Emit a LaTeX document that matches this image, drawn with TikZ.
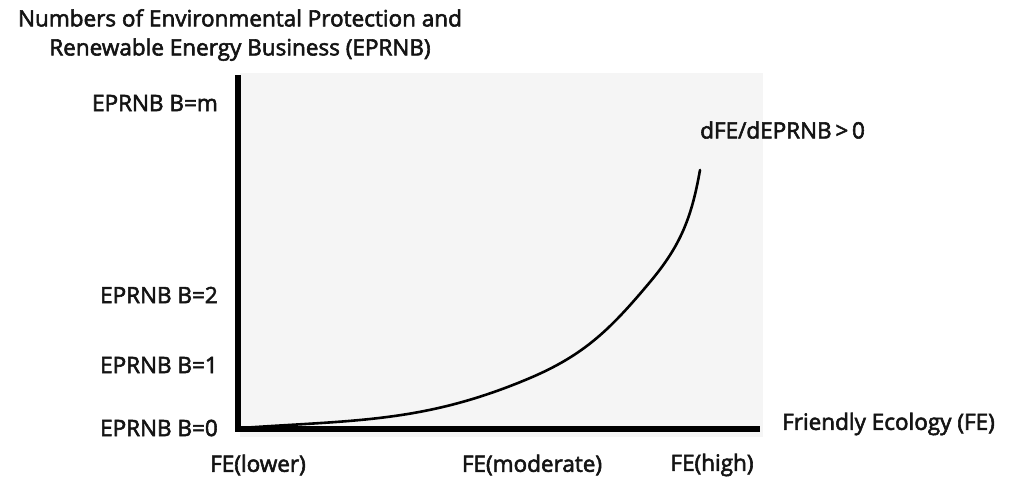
\documentclass[tikz,border=0pt]{standalone}
\usepackage{fontspec}
\setmainfont{Open Sans}[FakeBold=2.5]
\begin{document}
\begin{tikzpicture}[x=1pt,y=-1pt,
  lbl/.style={inner sep=0pt, font=\fontsize{22.5}{29}\selectfont, text=black!92},
  axis/.style={line width=5.5pt, black},
  curve/.style={line width=2.6pt, black, line cap=round, line join=round}]
\useasboundingbox (0,0) rectangle (1014,477);
\fill[black!4] (240,73) rectangle (763,437);
% title
\node[lbl, align=center] (title) at (240,35) {Numbers of Environmental Protection and\\Renewable Energy Business (EPRNB)};
% axes
\coordinate (origin) at (238,429);
\coordinate (ytop) at (238,75);
\coordinate (xend) at (760,429);
\draw[axis] (ytop) -- (origin) -- (xend);
% y labels
\node[lbl, anchor=east] (bm) at (218,103) {EPRNB B=m};
\node[lbl, anchor=east] (b2) at (218,295) {EPRNB B=2};
\node[lbl, anchor=east] (b1) at (218,365) {EPRNB B=1};
\node[lbl, anchor=east] (b0) at (218,428) {EPRNB B=0};
% x labels
\node[lbl] (xl) at (258,465) {FE(lower)};
\node[lbl] (xm) at (532,465) {FE(moderate)};
\node[lbl] (xh) at (712,465) {FE(high)};
\node[lbl, anchor=west] (xt) at (782,424) {Friendly Ecology (FE)};
\node[lbl, anchor=west] (dd) at (700,130) {dFE/dEPRNB\,>\,0};
% curve
\coordinate (cs) at (241,428);
\coordinate (cm1) at (530,378);
\coordinate (cm2) at (650,282);
\coordinate (ce) at (700,170);
\draw[curve] (cs) to[out=4,in=-157] (cm1) to[out=23,in=-130] (cm2) to[out=50,in=-100] (ce);
\end{tikzpicture}
\end{document}
